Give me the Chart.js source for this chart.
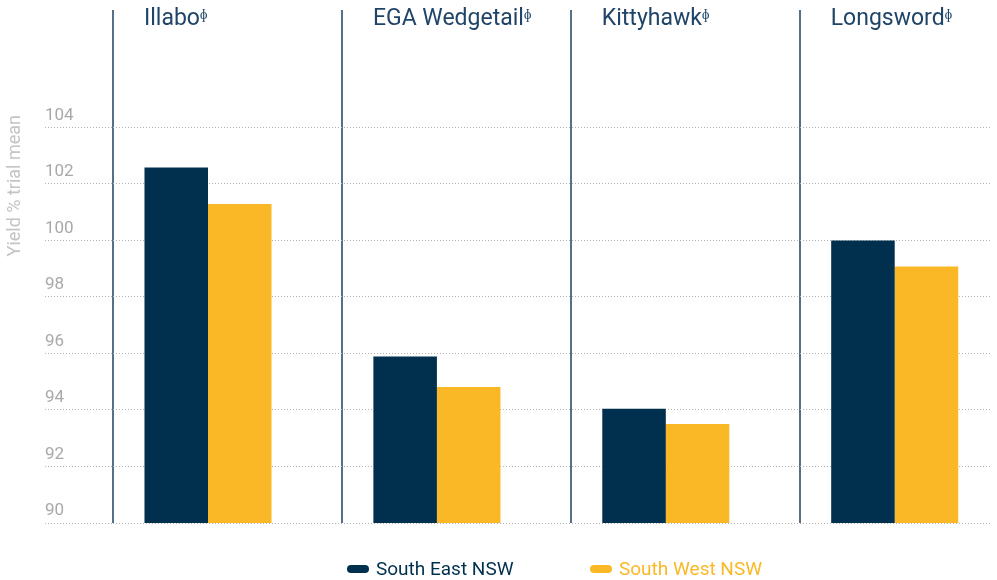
<!DOCTYPE html>
<html>
<head>
<meta charset="utf-8">
<script src="https://cdn.jsdelivr.net/npm/chart.js@4"></script>
<style>
html, body { margin: 0; padding: 0; background: #fff; }
.wrap { position: relative; width: 997px; height: 580px; }
#legend { position: absolute; left: 0; top: 557px; width: 997px; height: 24px; font: 19px Roboto, sans-serif; }
#legend .item { position: absolute; top: 0; height: 24px; line-height: 24px; display: flex; align-items: center; white-space: nowrap; }
#legend .item i { display: inline-block; width: 22px; height: 8px; border-radius: 4px; margin-right: 7px; }
</style>
</head>
<body>
<div class="wrap">
	<canvas id="chart" width="997" height="580"></canvas>
	<div id="legend"></div>
</div>
<script>
'use strict';

// data

const categories = ['Illabo', 'EGA Wedgetail', 'Kittyhawk', 'Longsword'];
const pbr_mark = 'ᶲ';
const south_east = [102.58, 95.89, 94.04, 100.0];
const south_west = [101.29, 94.81, 93.50, 99.08];
const y_ticks = [90, 92, 94, 96, 98, 100, 102, 104];

const navy = '#01304f';
const gold = '#fbb826';

Chart.defaults.font.family = 'Roboto';

const points = list => list.map((v, i) => ({x: i, y: v}));

const chart = new Chart(document.querySelector('#chart').getContext('2d'), {
	type: 'bar',
	data: {
		datasets: [
			{
				label: 'South East NSW',
				data: points(south_east),
				backgroundColor: navy,
				categoryPercentage: 0.555,
				barPercentage: 1
			},
			{
				label: 'South West NSW',
				data: points(south_west),
				backgroundColor: gold,
				categoryPercentage: 0.555,
				barPercentage: 1
			}
		]
	},
	options: {
		responsive: false,
		animation: false,
		devicePixelRatio: 1,
		layout: {
			padding: {top: 0, right: 5, bottom: 57, left: 0}
		},
		plugins: {
			legend: {display: false},
			tooltip: {enabled: false}
		},
		scales: {
			x: {
				type: 'linear',
				position: 'top',
				offset: false,
				min: -0.415,
				max: 3.425,
				afterBuildTicks: s => {
					s.ticks = categories.map((c, i) => ({value: s.min + i}));
				},
				afterFit: s => { s.height = 115; },
				grid: {offset: false, color: '#56708a', lineWidth: 2, tickLength: 105},
				border: {display: false},
				ticks: {
					autoSkip: false,
					maxRotation: 0,
					align: 'start',
					labelOffset: 31,
					padding: -23,
					font: {size: 23},
					color: '#1f4468',
					callback: (v, i) => categories[i] + pbr_mark
				}
			},
			y: {
				min: 90,
				max: 104.44,
				afterBuildTicks: s => {
					s.ticks = y_ticks.map(v => ({value: v}));
				},
				afterFit: s => { s.width = 113; },
				grid: {color: '#b4b4b4', lineWidth: 1, tickLength: 68, tickBorderDash: [1, 2]},
				border: {display: false, dash: [1, 2]},
				ticks: {
					mirror: true,
					crossAlign: 'near',
					padding: -68,
					labelOffset: -12,
					font: {size: 17},
					color: '#a9a9a9'
				},
				title: {
					display: true,
					text: 'Yield % trial mean',
					align: 'end',
					font: {size: 18},
					color: '#c4c4c4',
					padding: {top: 5, bottom: 0}
				}
			}
		}
	}
});

// legend

const legend = document.querySelector('#legend');
const legend_left = [347, 590];

chart.data.datasets.forEach((ds, i) => {
	const item = document.createElement('span');
	item.className = 'item';
	item.style.left = legend_left[i] + 'px';
	item.style.color = ds.backgroundColor;

	const box = document.createElement('i');
	box.style.background = ds.backgroundColor;

	item.appendChild(box);
	item.appendChild(document.createTextNode(ds.label));
	legend.appendChild(item);
});
</script>
</body>
</html>
